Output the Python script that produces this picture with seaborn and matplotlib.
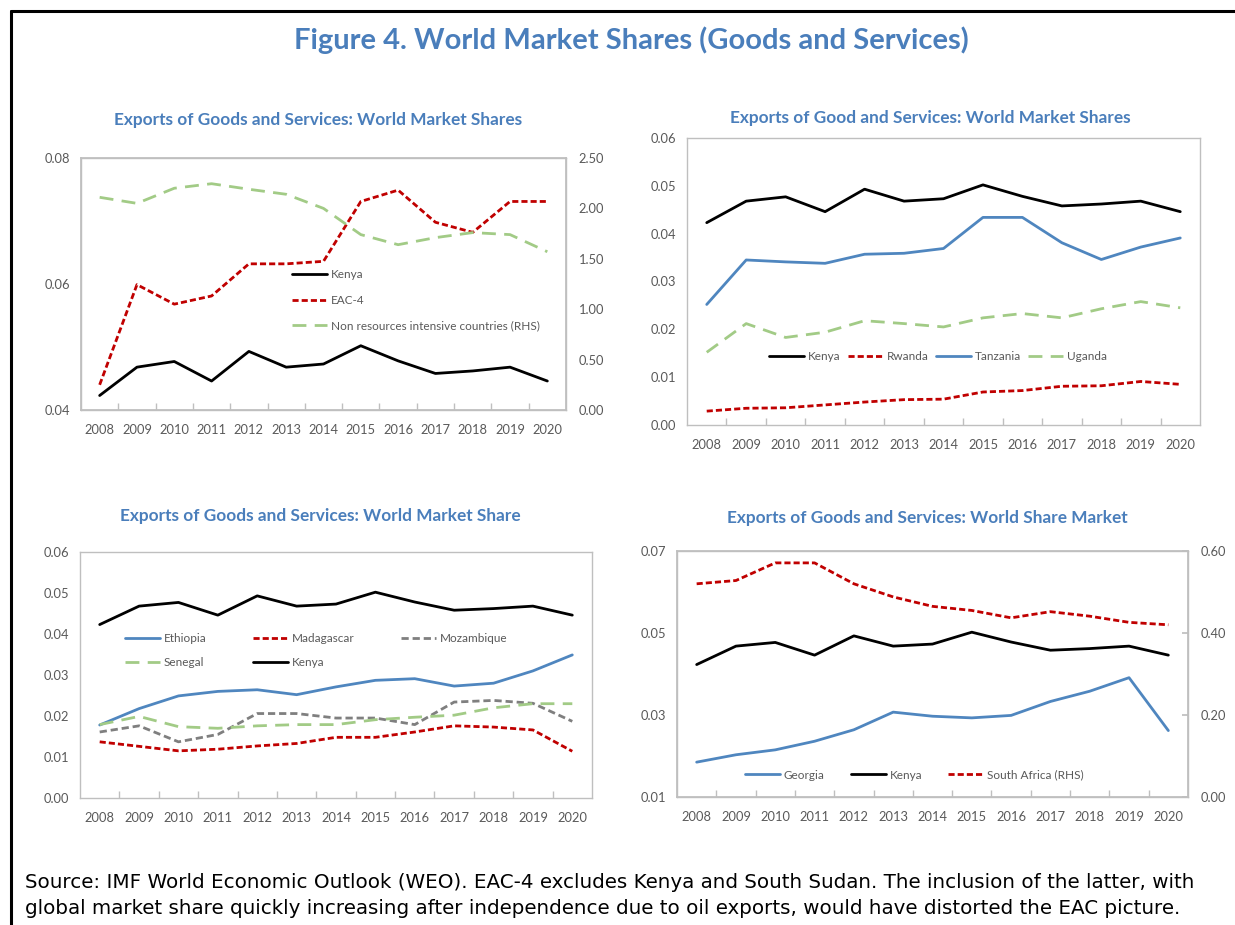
import matplotlib
matplotlib.use("Agg")

import matplotlib.pyplot as plt
import seaborn as sns
from matplotlib.lines import Line2D
from matplotlib.ticker import FixedLocator, FormatStrFormatter

sns.set_theme(style="white")
FONTE = ["Lato", "DejaVu Sans"]
plt.rcParams["font.family"] = FONTE

# dados (participacao no mercado mundial)
anos = list(range(2008, 2021))

kenya = [0.0423, 0.0468, 0.0477, 0.0446, 0.0493, 0.0468, 0.0473,
         0.0502, 0.0478, 0.0458, 0.0462, 0.0468, 0.0446]
eac4 = [0.0440, 0.0599, 0.0568, 0.0581, 0.0632, 0.0632, 0.0636,
        0.0731, 0.0749, 0.0698, 0.0682, 0.0731, 0.0731]
nao_recursos = [2.11, 2.05, 2.20, 2.245, 2.19, 2.14, 2.00,
                1.74, 1.64, 1.71, 1.76, 1.74, 1.57]

tanzania = [0.0252, 0.0345, 0.0341, 0.0338, 0.0357, 0.0359, 0.0369,
            0.0434, 0.0434, 0.0381, 0.0346, 0.0372, 0.0391]
uganda = [0.0152, 0.0212, 0.0183, 0.0194, 0.0218, 0.0212, 0.0205,
          0.0224, 0.0233, 0.0224, 0.0243, 0.0258, 0.0245]
rwanda = [0.0029, 0.0035, 0.0036, 0.0042, 0.0048, 0.0053, 0.0054,
          0.0069, 0.0072, 0.0081, 0.0082, 0.0091, 0.0085]

ethiopia = [0.0178, 0.0218, 0.0249, 0.0260, 0.0264, 0.0252, 0.0271,
            0.0287, 0.0291, 0.0273, 0.0280, 0.0310, 0.0349]
madagascar = [0.0137, 0.0126, 0.0115, 0.0119, 0.0127, 0.0133, 0.0148,
              0.0148, 0.0161, 0.0176, 0.0173, 0.0166, 0.0114]
mozambique = [0.0161, 0.0176, 0.0137, 0.0155, 0.0206, 0.0206, 0.0195,
              0.0195, 0.0179, 0.0234, 0.0238, 0.0231, 0.0187]
senegal = [0.0179, 0.0199, 0.0174, 0.0170, 0.0176, 0.0179, 0.0179,
           0.0191, 0.0197, 0.0202, 0.0220, 0.0230, 0.0230]

georgia = [0.0185, 0.0203, 0.0215, 0.0236, 0.0264, 0.0307, 0.0297,
           0.0293, 0.0299, 0.0333, 0.0358, 0.0391, 0.0262]
south_africa = [0.520, 0.528, 0.571, 0.571, 0.520, 0.488, 0.465,
                0.455, 0.437, 0.452, 0.441, 0.426, 0.420]

AZUL_TIT = "#4A7EBB"
AZUL = "#4F86BF"
VERMELHO = "#C00000"
VERDE = "#A2CB86"
CINZA = "#7F7F7F"
CINZA_TXT = "#595959"
CINZA_EIXO = "#BFBFBF"

TRACO_CURTO = (0, (2.2, 1.1))
TRACO_LONGO = (0, (5, 3))
TRACO_CINZA = (0, (2.6, 1.4))


def formatar(ax, ylim, passo, fmt="%.2f"):
    ax.set_xlim(2007.5, 2020.5)
    ax.set_ylim(*ylim)
    ax.set_xticks(anos)
    ax.set_xticklabels([str(a) for a in anos])
    ax.xaxis.set_minor_locator(FixedLocator([a + 0.5 for a in anos[:-1]]))
    ax.tick_params(axis="x", which="major", length=0, pad=10,
                   labelsize=9.3, labelcolor=CINZA_TXT)
    ax.tick_params(axis="x", which="minor", length=5, direction="in",
                   color=CINZA_EIXO, bottom=True)
    n = int(round((ylim[1] - ylim[0]) / passo))
    ax.set_yticks([ylim[0] + i * passo for i in range(n + 1)])
    ax.yaxis.set_major_formatter(FormatStrFormatter(fmt))
    ax.tick_params(axis="y", length=0, pad=8, labelsize=9.3, labelcolor=CINZA_TXT)
    for s in ax.spines.values():
        s.set_color(CINZA_EIXO)
        s.set_linewidth(1.0)
    ax.set_xlabel("")
    ax.set_ylabel("")


def linha(ax, y, cor, estilo, rotulo, lw=2.0):
    sns.lineplot(x=anos, y=y, ax=ax, color=cor, linestyle=estilo,
                 linewidth=lw, label=rotulo, legend=False)


fig = plt.figure(figsize=(12.35, 9.25), dpi=100)
fig.patch.set_facecolor("white")

# moldura
fig.add_artist(Line2D([11 / 1235, 1.0], [1 - 11 / 925, 1 - 11 / 925],
                      color="black", lw=2.2))
fig.add_artist(Line2D([11 / 1235, 11 / 1235], [1 - 11 / 925, 0.0],
                      color="black", lw=2.2))

fig.text(631 / 1235, 1 - 40 / 925, "Figure 4. World Market Shares (Goods and Services)",
         ha="center", va="center", fontsize=21, fontweight="bold", color=AZUL_TIT)


def eixo(x0, y0, x1, y1):
    return fig.add_axes([x0 / 1235, 1 - y1 / 925, (x1 - x0) / 1235, (y1 - y0) / 925])


def titulo(xc, yc, txt):
    fig.text(xc / 1235, 1 - yc / 925, txt, ha="center", va="center",
             fontsize=12.4, fontweight="bold", color=AZUL_TIT)


leg_kw = dict(frameon=False, fontsize=8.5, labelcolor=CINZA_TXT, handlelength=3.0,
              handletextpad=0.3, borderaxespad=0, borderpad=0)

# painel 1
ax1 = eixo(81, 158, 566, 410)
linha(ax1, kenya, "black", "-", "Kenya")
linha(ax1, eac4, VERMELHO, TRACO_CURTO, "EAC-4")
formatar(ax1, (0.04, 0.08), 0.02)
ax1b = ax1.twinx()
linha(ax1b, nao_recursos, VERDE, TRACO_LONGO, "Non resources intensive countries (RHS)")
ax1b.set_ylim(0, 2.5)
ax1b.set_yticks([0, 0.5, 1.0, 1.5, 2.0, 2.5])
ax1b.yaxis.set_major_formatter(FormatStrFormatter("%.2f"))
ax1b.tick_params(axis="y", length=0, pad=9, labelsize=9.3, labelcolor=CINZA_TXT)
ax1b.set_ylabel("")
for s in ax1b.spines.values():
    s.set_color(CINZA_EIXO)
h1, l1 = ax1.get_legend_handles_labels()
h2, l2 = ax1b.get_legend_handles_labels()
ax1b.legend(h1 + h2, l1 + l2, loc="upper left", bbox_to_anchor=(0.435, 0.56),
            labelspacing=1.25, **leg_kw)
titulo(318, 120, "Exports of Goods and Services: World Market Shares")

# painel 2
ax2 = eixo(687, 138, 1200, 425)
linha(ax2, kenya, "black", "-", "Kenya")
linha(ax2, rwanda, VERMELHO, TRACO_CURTO, "Rwanda")
linha(ax2, tanzania, AZUL, "-", "Tanzania")
linha(ax2, uganda, VERDE, TRACO_LONGO, "Uganda")
formatar(ax2, (0.0, 0.06), 0.01)
ax2.legend(loc="center left", bbox_to_anchor=(0.16, 0.237), ncol=4,
           columnspacing=0.6, **leg_kw)
titulo(930, 118, "Exports of Good and Services: World Market Shares")

# painel 3
ax3 = eixo(80, 552, 592, 798)
linha(ax3, kenya, "black", "-", "Kenya")
linha(ax3, ethiopia, AZUL, "-", "Ethiopia")
linha(ax3, madagascar, VERMELHO, TRACO_CURTO, "Madagascar")
linha(ax3, mozambique, CINZA, TRACO_CINZA, "Mozambique")
linha(ax3, senegal, VERDE, TRACO_LONGO, "Senegal")
formatar(ax3, (0.0, 0.06), 0.01)
hs, ls = ax3.get_legend_handles_labels()
ordem = ["Ethiopia", "Senegal", "Madagascar", "Kenya", "Mozambique"]
hs = [hs[ls.index(n)] for n in ordem]
ax3.legend(hs, ordem, loc="center left", bbox_to_anchor=(0.088, 0.60), ncol=3,
           columnspacing=3.9, labelspacing=1.1, **leg_kw)
titulo(320, 516, "Exports of Goods and Services: World Market Share")

# painel 4
ax4 = eixo(677, 551, 1188, 797)
linha(ax4, georgia, AZUL, "-", "Georgia")
linha(ax4, kenya, "black", "-", "Kenya")
formatar(ax4, (0.01, 0.07), 0.02)
ax4b = ax4.twinx()
linha(ax4b, south_africa, VERMELHO, TRACO_CURTO, "South Africa (RHS)")
ax4b.set_ylim(0, 0.6)
ax4b.set_yticks([0, 0.2, 0.4, 0.6])
ax4b.yaxis.set_major_formatter(FormatStrFormatter("%.2f"))
ax4b.tick_params(axis="y", length=4, direction="in", color=CINZA_EIXO, pad=9,
                 labelsize=9.3, labelcolor=CINZA_TXT)
ax4b.set_ylabel("")
for s in ax4b.spines.values():
    s.set_color(CINZA_EIXO)
h1, l1 = ax4.get_legend_handles_labels()
h2, l2 = ax4b.get_legend_handles_labels()
ax4b.legend(h1 + h2, l1 + l2, loc="center left", bbox_to_anchor=(0.133, 0.089),
            ncol=3, columnspacing=2.2, **leg_kw)
titulo(927, 518, "Exports of Goods and Services: World Share Market")

fonte_nota = dict(ha="left", va="center", fontsize=14.3, color="black",
                  family=["DejaVu Sans"])
fig.text(25 / 1235, 1 - 883 / 925,
         "Source: IMF World Economic Outlook (WEO). EAC-4 excludes Kenya and South Sudan. "
         "The inclusion of the latter, with", **fonte_nota)
fig.text(25 / 1235, 1 - 908 / 925,
         "global market share quickly increasing after independence due to oil exports, "
         "would have distorted the EAC picture.", **fonte_nota)

fig.savefig("out.png", dpi=100)
